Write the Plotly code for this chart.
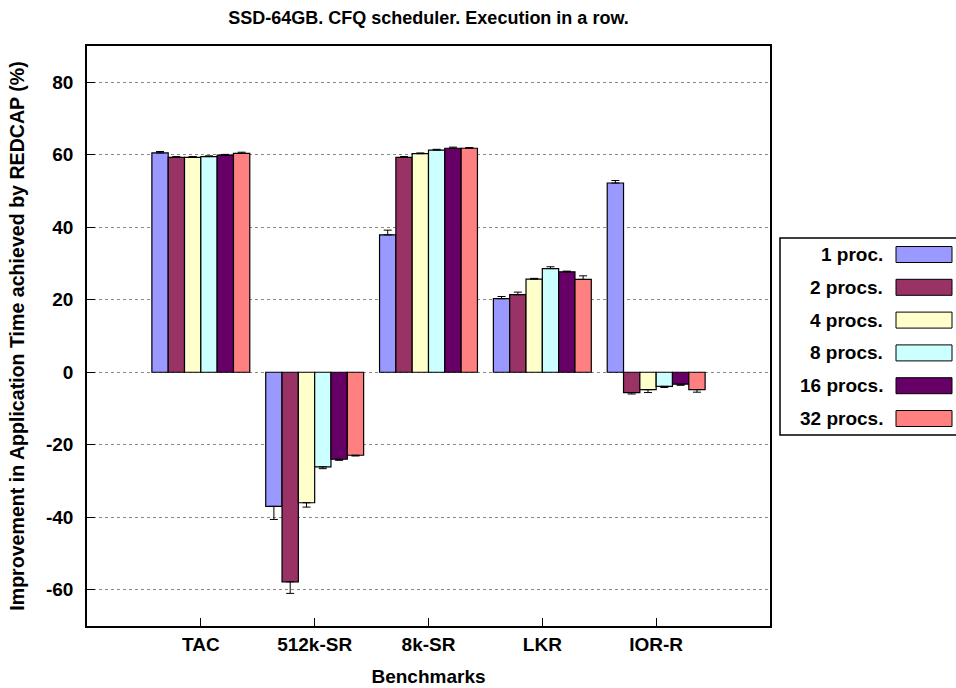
import plotly.graph_objects as go

# Benchmarks on the x axis
benchmarks = ["TAC", "512k-SR", "8k-SR", "LKR", "IOR-R"]

# Series (number of processes)
series_names = ["1 proc.", "2 procs.", "4 procs.", "8 procs.", "16 procs.", "32 procs."]
series_colors = ["#9999ff", "#993366", "#ffffcc", "#ccffff", "#660066", "#ff8080"]

# Improvement (%) per benchmark
proc1 = [60.5, -37.0, 37.9, 20.3, 52.2]
proc2 = [59.3, -57.8, 59.3, 21.4, -5.6]
proc4 = [59.3, -36.0, 60.3, 25.7, -4.8]
proc8 = [59.5, -26.1, 61.3, 28.6, -3.9]
proc16 = [59.9, -24.0, 61.8, 27.7, -3.3]
proc32 = [60.4, -22.9, 61.8, 25.6, -4.8]

# Error bar magnitudes
err1 = [0.4, 3.6, 1.3, 0.6, 0.7]
err2 = [0.2, 3.2, 0.2, 0.7, 0.4]
err4 = [0.2, 1.2, 0.2, 0.2, 0.8]
err8 = [0.2, 0.5, 0.2, 0.5, 0.3]
err16 = [0.2, 0.3, 0.3, 0.2, 0.3]
err32 = [0.3, 0.2, 0.2, 1.0, 0.7]

y_ticks = [-60, -40, -20, 0, 20, 40, 60, 80]

values = [proc1, proc2, proc4, proc8, proc16, proc32]
errors = [err1, err2, err4, err8, err16, err32]

FONT = "Liberation Sans, Arial, Helvetica, sans-serif"

fig = go.Figure()
for name, color, vals, errs in zip(series_names, series_colors, values, errors):
    plus = [e if v >= 0 else 0 for v, e in zip(vals, errs)]
    minus = [e if v < 0 else 0 for v, e in zip(vals, errs)]
    fig.add_trace(go.Bar(
        x=benchmarks, y=vals, name=name,
        marker=dict(color=color, line=dict(color="black", width=1.2)),
        error_y=dict(type="data", symmetric=False, array=plus, arrayminus=minus,
                     color="black", thickness=1, width=4),
        showlegend=False,
    ))

# Plot area in pixels
W, H = 956, 688
L, R, T, B = 87, 770, 46, 626


def px(x):
    return (x - L) / (R - L)


def py(y):
    return (B - y) / (B - T)


shapes = []
annotations = []

# Legend box with right-aligned labels and swatches on the right
shapes.append(dict(type="rect", xref="paper", yref="paper",
                   x0=px(780), x1=px(962), y0=py(435), y1=py(238),
                   line=dict(color="black", width=1.5), fillcolor="white", layer="above"))
for i, (name, color) in enumerate(zip(series_names, series_colors)):
    yc = 254.5 + i * 32.8
    shapes.append(dict(type="rect", xref="paper", yref="paper",
                       x0=px(896), x1=px(952), y0=py(yc + 8), y1=py(yc - 8),
                       line=dict(color="black", width=1), fillcolor=color, layer="above"))
    annotations.append(dict(xref="paper", yref="paper", x=px(885), y=py(yc),
                            xanchor="right", yanchor="middle", showarrow=False,
                            text=name, font=dict(family=FONT, size=19, color="black", weight="bold")))

fig.update_layout(
    width=W, height=H,
    margin=dict(l=L, r=W - R, t=T, b=H - B, pad=0, autoexpand=False),
    plot_bgcolor="white", paper_bgcolor="white",
    barmode="group", bargap=0.14, bargroupgap=0,
    font=dict(family=FONT, size=19, color="black", weight="bold"),
    title=dict(text="SSD-64GB. CFQ scheduler. Execution in a row.",
               x=px(428.5), xref="paper", xanchor="center",
               y=1 - 18 / H, yref="container", yanchor="middle",
               font=dict(family=FONT, size=18, color="black", weight="bold")),
    xaxis=dict(
        range=[-1, 5], showgrid=False, zeroline=False, automargin=False,
        showline=True, linecolor="black", linewidth=1.5, mirror=True,
        ticks="inside", ticklen=8, tickcolor="black", tickwidth=1,
        tickfont=dict(family=FONT, size=19, color="black", weight="bold"),
        title=dict(text="Benchmarks", standoff=16,
                   font=dict(family=FONT, size=19, color="black", weight="bold")),
    ),
    yaxis=dict(
        range=[-70, 90], tickvals=y_ticks, ticktext=[str(t) for t in y_ticks],
        showgrid=True, gridcolor="#888888", gridwidth=1, griddash="dot",
        zeroline=False, automargin=False,
        showline=True, linecolor="black", linewidth=1.5, mirror=True,
        ticks="inside", ticklen=8, tickcolor="black", tickwidth=1,
        ticklabelstandoff=8,
        tickfont=dict(family=FONT, size=19, color="black", weight="bold"),
        title=dict(text="Improvement in Application Time achieved by REDCAP (%)", standoff=16,
                   font=dict(family=FONT, size=19.6, color="black", weight="bold")),
    ),
    shapes=shapes,
    annotations=annotations,
)

fig.write_html("out.html")
